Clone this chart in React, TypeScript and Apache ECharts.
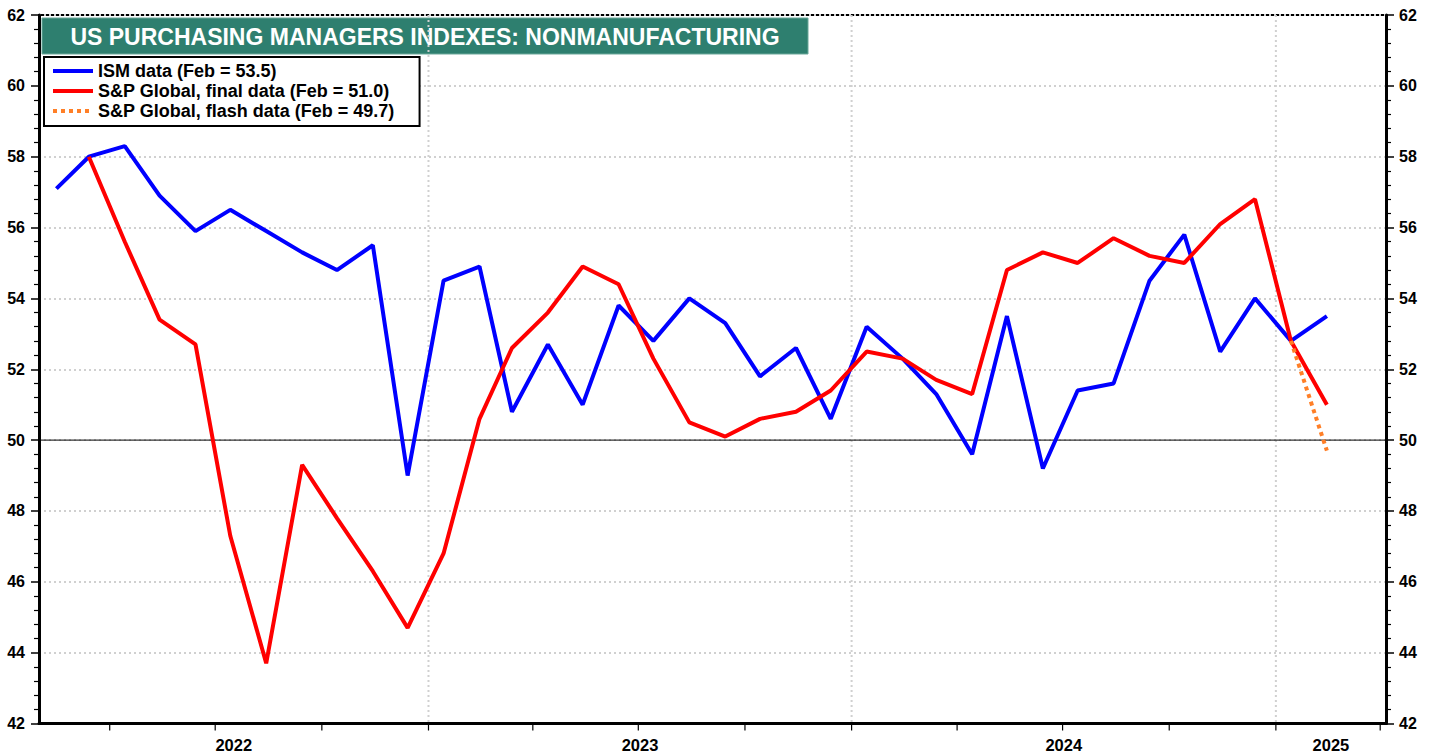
import React, { useEffect, useRef } from "react";
import * as echarts from "echarts";

const FONT = "'Liberation Sans', Arial, Helvetica, sans-serif";

const TITLE = "US PURCHASING MANAGERS INDEXES: NONMANUFACTURING";

const months = [
  "2022-02", "2022-03", "2022-04", "2022-05", "2022-06", "2022-07", "2022-08", "2022-09", "2022-10", "2022-11", "2022-12",
  "2023-01", "2023-02", "2023-03", "2023-04", "2023-05", "2023-06", "2023-07", "2023-08", "2023-09", "2023-10", "2023-11", "2023-12",
  "2024-01", "2024-02", "2024-03", "2024-04", "2024-05", "2024-06", "2024-07", "2024-08", "2024-09", "2024-10", "2024-11", "2024-12",
  "2025-01", "2025-02",
];

const ismValues = [
  57.1, 58.0, 58.3, 56.9, 55.9, 56.5, 55.9, 55.3, 54.8, 55.5, 49.0,
  54.5, 54.9, 50.8, 52.7, 51.0, 53.8, 52.8, 54.0, 53.3, 51.8, 52.6, 50.6,
  53.2, 52.3, 51.3, 49.6, 53.5, 49.2, 51.4, 51.6, 54.5, 55.8, 52.5, 54.0,
  52.8, 53.5,
];

const spFinalValues = [
  null, 58.0, 55.6, 53.4, 52.7, 47.3, 43.7, 49.3, 47.8, 46.3, 44.7,
  46.8, 50.6, 52.6, 53.6, 54.9, 54.4, 52.3, 50.5, 50.1, 50.6, 50.8, 51.4,
  52.5, 52.3, 51.7, 51.3, 54.8, 55.3, 55.0, 55.7, 55.2, 55.0, 56.1, 56.8,
  52.8, 51.0,
];

const flashMonths = ["2025-01", "2025-02"];
const flashValues = [52.8, 49.7];

const seriesNames = [
  "ISM data (Feb = 53.5)",
  "S&P Global, final data (Feb = 51.0)",
  "S&P Global, flash data (Feb = 49.7)",
];

const yearLabels = [2022, 2023, 2024, 2025];
const yearBoundaries = ["2023-01-01", "2024-01-01", "2025-01-01"];
const quarterTicks = [
  "2022-04-01", "2022-07-01", "2022-10-01",
  "2023-01-01", "2023-04-01", "2023-07-01", "2023-10-01",
  "2024-01-01", "2024-04-01", "2024-07-01", "2024-10-01",
  "2025-01-01", "2025-04-01",
];

const Y_MIN = 42;
const Y_MAX = 62;
const Y_STEP = 2;
const ZERO_LINE = 50;

const X_MIN = Date.UTC(2022, 0, 30);
const X_MAX = Date.UTC(2025, 3, 6);

function monthTs(s: string): number {
  const [y, m] = s.split("-").map(Number);
  return Date.UTC(y, m - 1, 14);
}
function dayTs(s: string): number {
  const [y, m, d] = s.split("-").map(Number);
  return Date.UTC(y, m - 1, d);
}

export default function App() {
  const ref = useRef<HTMLDivElement>(null);

  useEffect(() => {
    document.body.style.margin = "0";
    if (!ref.current) return;
    const chart = echarts.init(ref.current, null, { renderer: "svg" });

    const ismData = months.map((m, i) => [monthTs(m), ismValues[i]]);
    const spData = months.map((m, i) => [monthTs(m), spFinalValues[i]]);
    const flashData = flashMonths.map((m, i) => [monthTs(m), flashValues[i]]);

    const yearCenters = yearLabels.map((y) => {
      const s = Math.max(Date.UTC(y, 0, 1), X_MIN);
      const e = Math.min(Date.UTC(y + 1, 0, 1), X_MAX);
      return [(s + e) / 2, Y_MIN];
    });

    const axisLabelStyle = {
      color: "#000",
      fontSize: 16,
      fontWeight: "bold" as const,
      fontFamily: FONT,
    };

    const yAxisBase = {
      type: "value",
      min: Y_MIN,
      max: Y_MAX,
      interval: Y_STEP,
      axisLine: { show: true, lineStyle: { color: "#000", width: 3 } },
      axisTick: { show: true, length: 8, lineStyle: { color: "#000", width: 1.5 } },
      minorTick: { show: true, splitNumber: 5, length: 5, lineStyle: { color: "#000", width: 1.2 } },
    };

    const option: any = {
      animation: false,
      backgroundColor: "#fff",
      grid: {
        left: 39,
        right: 52,
        top: 15,
        bottom: 32.5,
        show: true,
        borderColor: "#000",
        borderWidth: 2,
        backgroundColor: "transparent",
      },
      legend: {
        data: seriesNames,
        orient: "vertical",
        left: 44,
        top: 57,
        itemWidth: 40,
        itemHeight: 14,
        itemGap: 2,
        padding: [5, 25, 6, 7],
        backgroundColor: "#fff",
        borderColor: "#000",
        borderWidth: 2,
        itemStyle: { opacity: 0 },
        lineStyle: { width: 4 },
        textStyle: { color: "#000", fontSize: 18, lineHeight: 18, fontWeight: "bold", fontFamily: FONT },
        selectedMode: false,
      },
      xAxis: {
        type: "time",
        min: X_MIN,
        max: X_MAX,
        axisLine: { show: true, lineStyle: { color: "#000", width: 3 } },
        axisTick: { show: false },
        axisLabel: { show: false },
        splitLine: { show: false },
      },
      yAxis: [
        {
          ...yAxisBase,
          position: "left",
          axisLabel: { ...axisLabelStyle, margin: 14 },
          splitLine: { show: true, lineStyle: { color: "#d0d0d0", width: 2, type: [2, 3] } },
        },
        {
          ...yAxisBase,
          position: "right",
          axisLabel: { ...axisLabelStyle, margin: 13 },
          splitLine: { show: false },
        },
      ],
      graphic: [
        {
          type: "group",
          z: 100,
          children: [
            {
              type: "rect",
              shape: { x: 42, y: 18, width: 766, height: 36 },
              style: { fill: "#2e7f6f", stroke: "#6aa89a", lineWidth: 1 },
            },
            {
              type: "text",
              x: 425,
              y: 36.5,
              style: {
                text: TITLE,
                fill: "#fff",
                font: `bold 23px ${FONT}`,
                textAlign: "center",
                textVerticalAlign: "middle",
                align: "center",
                verticalAlign: "middle",
              },
            },
          ],
        },
      ],
      series: [
        {
          type: "custom",
          name: "yearGrid",
          coordinateSystem: "cartesian2d",
          silent: true,
          z: 1,
          data: yearBoundaries.map((d) => [dayTs(d), Y_MIN]),
          renderItem: (params: any, api: any) => {
            const p = api.coord([api.value(0), Y_MIN]);
            const cs = params.coordSys;
            return {
              type: "line",
              shape: { x1: p[0], y1: cs.y, x2: p[0], y2: cs.y + cs.height },
              style: { stroke: "#d0d0d0", lineWidth: 2, lineDash: [2, 3] },
            };
          },
        },
        {
          type: "custom",
          name: "zeroLine",
          coordinateSystem: "cartesian2d",
          silent: true,
          z: 1,
          data: [[X_MIN, ZERO_LINE]],
          renderItem: (params: any, api: any) => {
            const p = api.coord([api.value(0), api.value(1)]);
            const cs = params.coordSys;
            return {
              type: "line",
              shape: { x1: cs.x, y1: p[1], x2: cs.x + cs.width, y2: p[1] },
              style: { stroke: "#000", lineWidth: 1 },
            };
          },
        },
        {
          type: "custom",
          name: "quarterTicks",
          coordinateSystem: "cartesian2d",
          silent: true,
          z: 5,
          data: quarterTicks.map((d) => [dayTs(d), Y_MIN]),
          renderItem: (params: any, api: any) => {
            const p = api.coord([api.value(0), Y_MIN]);
            return {
              type: "line",
              shape: { x1: p[0], y1: p[1] + 1.5, x2: p[0], y2: p[1] + 7 },
              style: { stroke: "#000", lineWidth: 1.2 },
            };
          },
        },
        {
          type: "custom",
          name: "yearLabels",
          coordinateSystem: "cartesian2d",
          silent: true,
          z: 5,
          data: yearCenters,
          renderItem: (params: any, api: any) => {
            const p = api.coord([api.value(0), Y_MIN]);
            return {
              type: "text",
              x: p[0],
              y: p[1] + 21.5,
              style: {
                text: String(yearLabels[params.dataIndex]),
                fill: "#000",
                font: `bold 16.5px ${FONT}`,
                textAlign: "center",
                textVerticalAlign: "middle",
                align: "center",
                verticalAlign: "middle",
              },
            };
          },
        },
        {
          type: "line",
          name: seriesNames[0],
          data: ismData,
          symbol: "none",
          z: 3,
          lineStyle: { color: "#0000ff", width: 4 },
          itemStyle: { color: "#0000ff" },
        },
        {
          type: "line",
          name: seriesNames[1],
          data: spData,
          symbol: "none",
          z: 4,
          lineStyle: { color: "#ff0000", width: 4 },
          itemStyle: { color: "#ff0000" },
        },
        {
          type: "line",
          name: seriesNames[2],
          data: flashData,
          symbol: "none",
          z: 5,
          lineStyle: { color: "#ff7f27", width: 4, type: [4, 4] },
          itemStyle: { color: "#ff7f27" },
        },
      ],
    };

    chart.setOption(option);
    return () => chart.dispose();
  }, []);

  return <div ref={ref} style={{ width: 1438, height: 756 }} />;
}
